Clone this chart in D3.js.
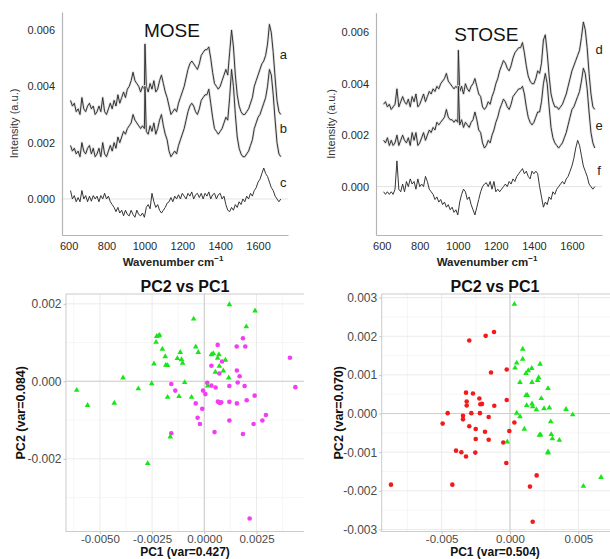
<!DOCTYPE html>
<html>
<head>
<meta charset="utf-8">
<script src="https://cdn.jsdelivr.net/npm/d3@7"></script>
<style>
  html, body { margin: 0; padding: 0; background: #fff; }
  svg { display: block; font-family: "Liberation Sans", Arial, sans-serif; }
</style>
</head>
<body>
<svg id="fig" width="610" height="559"></svg>
<script>
// wavenumber grid shared by every spectrum (cm-1)
const wavenumbers = d3.range(610, 1721, 10);

// MOSE spectra (a, b) and difference (c)
const moseA = [
  0.0035, 0.0033, 0.0034, 0.0031, 0.0032, 0.0030, 0.0036, 0.0032, 0.0031, 0.0033,
  0.0034, 0.0032, 0.0033, 0.0030, 0.0031, 0.0033, 0.0031, 0.0036, 0.0031, 0.0030,
  0.0032, 0.0034, 0.0032, 0.0035, 0.0033, 0.0037, 0.0034, 0.0036, 0.0038, 0.0036,
  0.0039, 0.0040, 0.0042, 0.0045, 0.0042, 0.0041, 0.0040, 0.0038, 0.0040, 0.0039,
  0.0040, 0.0038, 0.0041, 0.0039, 0.0042, 0.0038, 0.0039, 0.0042, 0.0044, 0.0041,
  0.0038, 0.0036, 0.0033, 0.0030, 0.0031, 0.0032, 0.0031, 0.0034, 0.0036, 0.0038,
  0.0040, 0.0043, 0.0046, 0.0048, 0.0049, 0.0048, 0.0047, 0.0046, 0.0048, 0.0051,
  0.0052, 0.0053, 0.0053, 0.0054, 0.0050, 0.0045, 0.0041, 0.0040, 0.0039, 0.0040,
  0.0042, 0.0044, 0.0046, 0.0044, 0.0052, 0.0060, 0.0054, 0.0044, 0.0037, 0.0033,
  0.0031, 0.0030, 0.0030, 0.0031, 0.0032, 0.0034, 0.0036, 0.0040, 0.0042, 0.0044,
  0.0046, 0.0048, 0.0049, 0.0051, 0.0055, 0.0062, 0.0059, 0.0052, 0.0043, 0.0035,
  0.0031, 0.0030
];
const moseB = [
  0.0019, 0.0017, 0.0018, 0.0016, 0.0017, 0.0015, 0.0020, 0.0017, 0.0016, 0.0018,
  0.0019, 0.0016, 0.0018, 0.0015, 0.0016, 0.0018, 0.0015, 0.0020, 0.0016, 0.0015,
  0.0017, 0.0019, 0.0017, 0.0020, 0.0018, 0.0022, 0.0020, 0.0022, 0.0024, 0.0023,
  0.0025, 0.0026, 0.0027, 0.0030, 0.0028, 0.0027, 0.0026, 0.0025, 0.0026, 0.0025,
  0.0024, 0.0023, 0.0026, 0.0024, 0.0027, 0.0023, 0.0025, 0.0028, 0.0030, 0.0026,
  0.0023, 0.0021, 0.0017, 0.0015, 0.0016, 0.0017, 0.0016, 0.0019, 0.0021, 0.0023,
  0.0025, 0.0028, 0.0031, 0.0033, 0.0034, 0.0033, 0.0031, 0.0030, 0.0032, 0.0035,
  0.0036, 0.0037, 0.0037, 0.0039, 0.0034, 0.0029, 0.0025, 0.0024, 0.0023, 0.0024,
  0.0025, 0.0027, 0.0029, 0.0028, 0.0036, 0.0046, 0.0040, 0.0030, 0.0022, 0.0018,
  0.0016, 0.0015, 0.0015, 0.0016, 0.0017, 0.0019, 0.0021, 0.0025, 0.0027, 0.0029,
  0.0030, 0.0032, 0.0034, 0.0036, 0.0040, 0.0046, 0.0044, 0.0037, 0.0028, 0.0020,
  0.0016, 0.0015
];
const moseC = [
  0.0003, 0.0000, 0.00012, -0.0001, 0.00005, -0.0001, 0.0003, 0.0000, 0.00012, -0.0001,
  0.0001, -0.00008, 0.00012, 0.0000, 0.0001, -0.0001, 0.00012, 0.0000, 0.0002, 0.0000,
  0.0001, -0.0001, -0.0002, -0.0003, -0.00045, -0.0003, -0.0005, -0.0004, -0.0006, -0.0004,
  -0.00055, -0.0006, -0.0004, -0.00055, -0.00065, -0.0004, -0.00055, -0.0006, -0.0005, -0.00065,
  -0.0003, -0.0002, -0.00035, 0.0002, -0.0001, -0.0003, -0.0002, -0.0004, -0.0005, -0.0004,
  -0.0003, -0.00015, -0.0001, 0.00005, -0.0001, 0.0001, 0.0000, 0.00015, 0.0000, 0.0002,
  0.0001, 0.0000, 0.0002, 0.0001, 0.00025, 0.0000, 0.00015, 0.0002, 0.00005, 0.0002,
  0.0000, 0.0002, 0.0001, 0.00025, 0.0000, 0.00015, 0.0002, 0.0000, 0.00015, 0.0002,
  0.0000, 0.0001, -0.0002, -0.0004, -0.00045, -0.0003, -0.0004, -0.0002, -0.0003, -0.0001,
  -0.0002, 0.0000, -0.0001, 0.0001, 0.0000, 0.0002, 0.0001, 0.0003, 0.0004, 0.0006,
  0.0007, 0.0009, 0.0011, 0.0009, 0.0008, 0.0006, 0.0004, 0.0003, 0.0001, 0.0000,
  -0.0001, 0.0000
];

// STOSE spectra (d, e) and difference (f)
const stoseD = [
  0.0032, 0.0033, 0.0031, 0.0032, 0.0030, 0.0031, 0.0032, 0.0038, 0.0031, 0.0033,
  0.0035, 0.0033, 0.0032, 0.0034, 0.0031, 0.0035, 0.0033, 0.0036, 0.0031, 0.0032,
  0.0034, 0.0036, 0.0033, 0.0035, 0.0037, 0.0036, 0.0038, 0.0037, 0.0039, 0.0038,
  0.0040, 0.0041, 0.0042, 0.0044, 0.0041, 0.0040, 0.0039, 0.0038, 0.0039, 0.0038,
  0.0037, 0.0039, 0.0036, 0.0040, 0.0038, 0.0037, 0.0039, 0.0040, 0.0042, 0.0039,
  0.0036, 0.0035, 0.0031, 0.0030, 0.0031, 0.0033, 0.0032, 0.0035, 0.0037, 0.0040,
  0.0042, 0.0045, 0.0047, 0.0049, 0.0048, 0.0046, 0.0045, 0.0047, 0.0050, 0.0052,
  0.0053, 0.0054, 0.0054, 0.0056, 0.0052, 0.0047, 0.0043, 0.0041, 0.0040, 0.0040,
  0.0042, 0.0045, 0.0044, 0.0048, 0.0057, 0.0059, 0.0052, 0.0043, 0.0036, 0.0033,
  0.0031, 0.0031, 0.0030, 0.0031, 0.0032, 0.0034, 0.0036, 0.0039, 0.0042, 0.0045,
  0.0047, 0.0049, 0.0051, 0.0053, 0.0058, 0.0064, 0.0061, 0.0054, 0.0044, 0.0036,
  0.0031, 0.0030
];
const stoseE = [
  0.0018, 0.0017, 0.0019, 0.0016, 0.0018, 0.0016, 0.0017, 0.0020, 0.0016, 0.0018,
  0.0020, 0.0018, 0.0017, 0.0019, 0.0016, 0.0021, 0.0018, 0.0021, 0.0016, 0.0017,
  0.0019, 0.0021, 0.0018, 0.0020, 0.0022, 0.0021, 0.0023, 0.0022, 0.0025, 0.0024,
  0.0025, 0.0026, 0.0027, 0.0030, 0.0027, 0.0026, 0.0026, 0.0025, 0.0026, 0.0025,
  0.0024, 0.0026, 0.0023, 0.0025, 0.0024, 0.0023, 0.0025, 0.0026, 0.0029, 0.0026,
  0.0022, 0.0021, 0.0017, 0.0015, 0.0016, 0.0018, 0.0017, 0.0020, 0.0022, 0.0025,
  0.0027, 0.0030, 0.0032, 0.0034, 0.0033, 0.0031, 0.0030, 0.0032, 0.0035, 0.0036,
  0.0037, 0.0038, 0.0038, 0.0039, 0.0036, 0.0031, 0.0027, 0.0025, 0.0024, 0.0025,
  0.0027, 0.0029, 0.0029, 0.0033, 0.0040, 0.0044, 0.0040, 0.0031, 0.0023, 0.0019,
  0.0017, 0.0016, 0.0015, 0.0016, 0.0017, 0.0019, 0.0021, 0.0024, 0.0027, 0.0030,
  0.0031, 0.0033, 0.0035, 0.0037, 0.0041, 0.0046, 0.0044, 0.0038, 0.0029, 0.0021,
  0.0017, 0.0015
];
const stoseF = [
  -0.0002, -0.0003, -0.0002, -0.0003, -0.0002, -0.0003, -0.0001, 0.0010, -0.0001, -0.0002,
  0.0001, -0.0002, 0.0002, 0.0000, 0.0003, 0.0001, 0.0002, -0.0001, 0.0003, 0.0000,
  0.0001, 0.0000, 0.0004, 0.0002, -0.0001, -0.0002, -0.0003, -0.0005, -0.0004, -0.0006,
  -0.0005, -0.0007, -0.0006, -0.0008, -0.0007, -0.0009, -0.0008, -0.0010, -0.0009, -0.0011,
  -0.0006, -0.0003, -0.0001, -0.0002, -0.0005, -0.0004, -0.0007, -0.0009, -0.0011, -0.0008,
  -0.0005, -0.0002, 0.0000, 0.0001, 0.00015, 0.0000, 0.0002, -0.0001, 0.0002, -0.0002,
  -0.0001, -0.0002, -0.0001, 0.0000, 0.0001, 0.0000, 0.0002, 0.0001, 0.0003, 0.0002,
  0.0004, 0.0005, 0.0006, 0.0007, 0.0005, 0.0006, 0.0004, 0.0003, 0.0006, 0.0005,
  0.0006, 0.0005, 0.0000, -0.0004, -0.0008, -0.0006, -0.0007, -0.0004, -0.0005, -0.0002,
  -0.0003, -0.0001, 0.0000, 0.0001, 0.0002, 0.0001, 0.0003, 0.0004, 0.0006, 0.0008,
  0.0011, 0.0015, 0.0018, 0.0016, 0.0012, 0.0008, 0.0006, 0.0004, 0.0001, 0.0000,
  -0.0001, 0.0000
];

// narrow band near 1003 cm-1 (top of spike per spectrum)
const spikeWn = 1003;
const spikeTops = { a: 0.0055, b: 0.0040, d: 0.0053, e: 0.0039 };

// PCA scores [PC1, PC2]
const moseGreen = [
  [-0.00611, -0.00023], [-0.00559, -0.00062], [-0.00431, -0.00056], [-0.00389, 0.00009],
  [-0.00316, -0.00019], [-0.00271, -0.00212], [-0.00252, -0.00006], [-0.00241, 0.00045],
  [-0.00231, 0.00101], [-0.00228, 0.00116], [-0.00220, 0.00117], [-0.00214, 0.00119],
  [-0.00201, 0.00083], [-0.00187, 0.00064], [-0.00184, 0.00042], [-0.00176, 0.00041],
  [-0.00176, -0.00041], [-0.00163, -0.00143], [-0.00129, 0.00059], [-0.00121, -0.00039],
  [-0.00115, 0.00075], [-0.00109, 0.00056], [-0.00104, 0.00047], [-0.00094, -0.00003],
  [-0.00061, -0.00041], [-0.00051, 0.00161], [-0.00041, 0.00089], [-0.00029, 0.00075],
  [0.00016, -0.00012], [0.00034, 0.00069], [0.00043, 0.00072], [0.00053, 0.00024],
  [0.00064, 0.00060], [0.00070, 0.00069], [0.00072, 0.00039], [0.00091, 0.00027],
  [0.00101, 0.00055], [0.00117, 0.00009], [0.00120, 0.00198], [0.00201, 0.00141],
  [0.00243, 0.00182]
];
const moseMagenta = [
  [-0.00158, -0.00007], [-0.00158, -0.00134], [-0.00139, -0.00024], [-0.00041, -0.00057],
  [-0.00032, -0.00094], [-0.00021, -0.00110], [-0.00010, -0.00071], [-0.00006, -0.00024],
  [0.00005, -0.00033], [0.00014, -0.00004], [0.00034, -0.00011], [0.00034, 0.00040],
  [0.00049, -0.00131], [0.00054, -0.00016], [0.00064, 0.00094], [0.00065, -0.00052],
  [0.00069, -0.00054], [0.00075, -0.00056], [0.00081, -0.00054], [0.00072, 0.00020],
  [0.00085, 0.00051], [0.00120, -0.00012], [0.00120, -0.00053], [0.00120, -0.00101],
  [0.00155, 0.00090], [0.00156, 0.00028], [0.00156, -0.00057], [0.00160, -0.00003],
  [0.00169, 0.00013], [0.00185, 0.00111], [0.00185, -0.00136], [0.00193, -0.00012],
  [0.00196, 0.00090], [0.00203, -0.00049], [0.00217, -0.00354], [0.00236, -0.00110],
  [0.00241, -0.00037], [0.00278, -0.00101], [0.00295, -0.00087], [0.00410, 0.00061],
  [0.00436, -0.00015]
];
const stoseRed = [
  [-0.00871, -0.00184], [-0.00493, -0.00026], [-0.00456, 0.00001], [-0.00422, -0.00184],
  [-0.00395, -0.00096], [-0.00356, -0.00100], [-0.00344, -0.00006], [-0.00344, -0.00015],
  [-0.00322, 0.00054], [-0.00317, 0.00031], [-0.00317, 0.00021], [-0.00322, -0.00111],
  [-0.00298, -0.00033], [-0.00298, 0.00189], [-0.00283, 0.00001], [-0.00271, 0.00052],
  [-0.00251, -0.00040], [-0.00251, -0.00066], [-0.00254, -0.00101], [-0.00224, 0.00039],
  [-0.00220, 0.00001], [-0.00217, 0.00024], [-0.00205, 0.00025], [-0.00183, -0.00047],
  [-0.00178, 0.00201], [-0.00156, -0.00009], [-0.00156, -0.00068], [-0.00139, 0.00106],
  [-0.00117, 0.00211], [-0.00115, 0.00020], [-0.00049, -0.00075], [-0.00027, -0.00128],
  [-0.00024, 0.00035], [-0.00024, 0.00114], [-0.00005, -0.00045], [0.00032, -0.00023],
  [0.00146, -0.00189], [0.00195, -0.00160], [0.00166, -0.00280]
];
const stoseGreen = [
  [0.00032, 0.00283], [-0.00020, -0.00073], [0.00037, 0.00118], [0.00049, 0.00131],
  [0.00049, 0.00001], [0.00073, -0.00008], [0.00073, 0.00081], [0.00093, 0.00167],
  [0.00093, 0.00141], [0.00105, -0.00040], [0.00117, 0.00104], [0.00117, 0.00047],
  [0.00127, 0.00047], [0.00122, 0.00021], [0.00134, 0.00111], [0.00159, 0.00117],
  [0.00161, 0.00081], [0.00161, 0.00025], [0.00166, 0.00018], [0.00193, 0.00010],
  [0.00202, 0.00086], [0.00210, 0.00093], [0.00220, 0.00128], [0.00215, -0.00056],
  [0.00224, -0.00055], [0.00229, 0.00039], [0.00249, 0.00013], [0.00278, 0.00065],
  [0.00278, -0.00099], [0.00278, -0.00102], [0.00288, 0.00015], [0.00298, -0.00021],
  [0.00302, -0.00054], [0.00310, -0.00065], [0.00361, -0.00069], [0.00410, 0.00011],
  [0.00459, -0.00003], [0.00537, -0.00188], [0.00666, -0.00165]
];

const specXTicks = [600, 800, 1000, 1200, 1400, 1600];
const specYTicks = [0, 0.002, 0.004, 0.006];

const svg = d3.select("#fig");
svg.append("rect").attr("width", 610).attr("height", 559).attr("fill", "#fff");

// join spectrum values to the grid, with the spike point slotted in
function toPoints(values, spikeTop) {
  const pts = wavenumbers.map((wn, i) => ({ wn, v: values[i] }));
  if (spikeTop != null) {
    const i = pts.findIndex(p => p.wn > spikeWn);
    pts.splice(i, 0, { wn: spikeWn, v: spikeTop });
  }
  return pts;
}

// -------------------- spectra panels --------------------
function buildSpectra(opt) {
  const { box, xDomain, yDomain } = opt;
  const x = d3.scaleLinear().domain(xDomain).range([box.l, box.r]);
  const y = d3.scaleLinear().domain(yDomain).range([box.b, box.t]);
  const g = svg.append("g");

  // zero reference
  g.append("line")
    .attr("x1", box.l).attr("x2", box.r)
    .attr("y1", y(0)).attr("y2", y(0))
    .attr("stroke", "#e3e3e3").attr("stroke-width", 1);

  const yAx = g.append("g").attr("transform", `translate(${box.l},0)`)
    .call(d3.axisLeft(y).tickValues(specYTicks).tickFormat(d => d.toFixed(3))
      .tickSize(0).tickPadding(7));
  const xAx = g.append("g").attr("transform", `translate(0,${box.b})`)
    .call(d3.axisBottom(x).tickValues(specXTicks).tickFormat(d3.format("d"))
      .tickSize(0).tickPadding(7));
  [yAx, xAx].forEach(a => {
    a.select(".domain").attr("stroke", "#b4b4b4").attr("stroke-width", 1.2);
    a.selectAll("text").attr("font-size", 11).attr("fill", "#2a2a2a")
      .attr("font-family", "Liberation Sans, Arial, sans-serif");
  });

  const lineGen = d3.line().x(d => x(d.wn)).y(d => y(d.v));

  opt.series.forEach(s => {
    const pts = toPoints(s.values, s.spike);
    if (s.ribbon) {
      g.append("path").datum(pts).attr("d", lineGen)
        .attr("fill", "none").attr("stroke", "#dedede")
        .attr("stroke-width", 2.6).attr("stroke-linejoin", "round");
    }
    g.append("path").datum(pts).attr("d", lineGen)
      .attr("fill", "none").attr("stroke", "#2b2b2b")
      .attr("stroke-width", 0.95).attr("stroke-linejoin", "round");
    g.append("text")
      .attr("x", x(s.labelAt[0])).attr("y", y(s.labelAt[1]))
      .attr("text-anchor", "middle").attr("dominant-baseline", "middle")
      .attr("font-size", 13).attr("fill", "#222").text(s.label);
  });

  g.append("text")
    .attr("x", x(opt.titleAt[0])).attr("y", y(opt.titleAt[1]))
    .attr("text-anchor", "middle").attr("font-size", 19).attr("fill", "#111")
    .text(opt.title);

  g.append("text")
    .attr("transform", `translate(${opt.yTitleX},${(box.t + box.b) / 2}) rotate(-90)`)
    .attr("text-anchor", "middle").attr("font-size", 11).attr("fill", "#333")
    .text("Intensity (a.u.)");

  const xt = g.append("text")
    .attr("x", (box.l + box.r) / 2 - 2).attr("y", box.b + 31)
    .attr("text-anchor", "middle").attr("font-size", 11.5)
    .attr("font-weight", "bold").attr("fill", "#222");
  xt.append("tspan").text("Wavenumber cm");
  xt.append("tspan").attr("dy", -5).attr("font-size", 8).text("\u22121");
}

buildSpectra({
  box: { l: 62, r: 288, t: 12, b: 235 },
  xDomain: [565, 1758], yDomain: [-0.00128, 0.00664],
  title: "MOSE", titleAt: [1145, 0.00575], yTitleX: 18,
  series: [
    { values: moseA, spike: spikeTops.a, ribbon: true, label: "a", labelAt: [1733, 0.0051] },
    { values: moseB, spike: spikeTops.b, ribbon: true, label: "b", labelAt: [1733, 0.00245] },
    { values: moseC, spike: null, ribbon: false, label: "c", labelAt: [1733, 0.00055] }
  ]
});

buildSpectra({
  box: { l: 376, r: 602, t: 12.7, b: 235 },
  xDomain: [570, 1758], yDomain: [-0.00188, 0.00676],
  title: "STOSE", titleAt: [1150, 0.00565], yTitleX: 335,
  series: [
    { values: stoseD, spike: spikeTops.d, ribbon: true, label: "d", labelAt: [1743, 0.0053] },
    { values: stoseE, spike: spikeTops.e, ribbon: true, label: "e", labelAt: [1743, 0.00232] },
    { values: stoseF, spike: null, ribbon: false, label: "f", labelAt: [1743, 0.00058] }
  ]
});

// -------------------- PCA score panels --------------------
function buildScatter(opt) {
  const { box } = opt;
  const x = d3.scaleLinear().domain(opt.xDomain).range([box.l, box.r]);
  const y = d3.scaleLinear().domain(opt.yDomain).range([box.b, box.t]);

  const clipId = "clip" + opt.id;
  svg.append("clipPath").attr("id", clipId)
    .append("rect").attr("x", box.l - 1).attr("y", box.t - 1)
    .attr("width", opt.clipR - box.l + 1).attr("height", box.b - box.t + 2);

  const g = svg.append("g");
  const p = g.append("g").attr("clip-path", `url(#${clipId})`);

  // minor then major grid
  opt.xMinor.forEach(v => p.append("line").attr("x1", x(v)).attr("x2", x(v))
    .attr("y1", box.t).attr("y2", box.b).attr("stroke", "#f4f4f4").attr("stroke-width", 0.8));
  opt.yMinor.forEach(v => p.append("line").attr("y1", y(v)).attr("y2", y(v))
    .attr("x1", box.l).attr("x2", box.r).attr("stroke", "#f4f4f4").attr("stroke-width", 0.8));
  opt.xTicks.forEach(v => p.append("line").attr("x1", x(v)).attr("x2", x(v))
    .attr("y1", box.t).attr("y2", box.b).attr("stroke", "#ebebeb").attr("stroke-width", 1));
  opt.yTicks.forEach(v => p.append("line").attr("y1", y(v)).attr("y2", y(v))
    .attr("x1", box.l).attr("x2", box.r).attr("stroke", "#ebebeb").attr("stroke-width", 1));

  // zero cross-hair
  p.append("line").attr("x1", x(0)).attr("x2", x(0)).attr("y1", box.t).attr("y2", box.b)
    .attr("stroke", "#cfcfcf").attr("stroke-width", 1.1);
  p.append("line").attr("y1", y(0)).attr("y2", y(0)).attr("x1", box.l).attr("x2", box.r)
    .attr("stroke", "#cfcfcf").attr("stroke-width", 1.1);

  // circles
  p.selectAll("circle.pt").data(opt.circles).join("circle")
    .attr("class", "pt")
    .attr("cx", d => x(d[0])).attr("cy", d => y(d[1]))
    .attr("r", 2.3).attr("fill", opt.circleColor);

  // triangles
  const tri = d3.symbol(d3.symbolTriangle).size(14);
  p.selectAll("path.tri").data(opt.triangles).join("path")
    .attr("class", "tri")
    .attr("transform", d => `translate(${x(d[0])},${y(d[1])})`)
    .attr("d", tri).attr("fill", opt.triColor);

  // panel border
  p.append("rect").attr("x", box.l).attr("y", box.t)
    .attr("width", box.r - box.l).attr("height", box.b - box.t)
    .attr("fill", "none").attr("stroke", "#cccccc").attr("stroke-width", 1);

  const yAx = g.append("g").attr("transform", `translate(${box.l},0)`)
    .call(d3.axisLeft(y).tickValues(opt.yTicks).tickFormat(opt.yFmt)
      .tickSize(2.5).tickPadding(2));
  const xAx = g.append("g").attr("transform", `translate(0,${box.b})`)
    .call(d3.axisBottom(x).tickValues(opt.xTicks).tickFormat(opt.xFmt)
      .tickSize(2.5).tickPadding(0.5));
  yAx.selectAll("text").attr("font-size", 12);
  xAx.selectAll("text").attr("font-size", 11.5);
  [yAx, xAx].forEach(a => {
    a.select(".domain").remove();
    a.selectAll("line").attr("stroke", "#c4c4c4");
    a.selectAll("text").attr("fill", "#4a4a4a")
      .attr("font-family", "Liberation Sans, Arial, sans-serif");
  });

  g.append("text").attr("x", opt.titleX).attr("y", box.t - 2)
    .attr("text-anchor", "middle").attr("font-size", 16).attr("font-weight", "bold")
    .attr("fill", "#111").text("PC2 vs PC1");
  g.append("text").attr("x", opt.titleX).attr("y", 556.2)
    .attr("text-anchor", "middle").attr("font-size", 12).attr("font-weight", "bold")
    .attr("fill", "#111").text(opt.xTitle);
  g.append("text")
    .attr("transform", `translate(${opt.yTitleX},${(box.t + box.b) / 2}) rotate(-90)`)
    .attr("text-anchor", "middle").attr("font-size", 12.5).attr("font-weight", "bold")
    .attr("fill", "#111").text(opt.yTitle);
}

const fmtFixed = n => v => (Math.abs(v) < 1e-12 ? 0 : v).toFixed(n);

buildScatter({
  id: "mose",
  box: { l: 66, r: 320, t: 294, b: 531.5 },
  clipR: 304,
  xDomain: [-0.006622, -0.006622 + (320 - 66) / 20886],
  yDomain: [-0.003875, 0.002253],
  xTicks: [-0.005, -0.0025, 0, 0.0025], xMinor: [-0.00625, -0.00375, -0.00125, 0.00125, 0.00375],
  yTicks: [-0.002, 0, 0.002], yMinor: [-0.003, -0.001, 0.001],
  xFmt: fmtFixed(4), yFmt: fmtFixed(3),
  circles: moseMagenta, circleColor: "#f33cf3",
  triangles: moseGreen, triColor: "#19e619",
  titleX: 185, yTitleX: 25,
  xTitle: "PC1 (var=0.427)", yTitle: "PC2 (var=0.084)"
});

buildScatter({
  id: "stose",
  box: { l: 381.7, r: 612, t: 294, b: 531.5 },
  clipR: 612,
  xDomain: [-0.009388, 0.007463],
  yDomain: [-0.003052, 0.003093],
  xTicks: [-0.005, 0, 0.005], xMinor: [-0.0075, -0.0025, 0.0025, 0.0075],
  yTicks: [-0.003, -0.002, -0.001, 0, 0.001, 0.002, 0.003],
  yMinor: [-0.0025, -0.0015, -0.0005, 0.0005, 0.0015, 0.0025],
  xFmt: fmtFixed(3), yFmt: fmtFixed(3),
  circles: stoseRed, circleColor: "#f41a1a",
  triangles: stoseGreen, triColor: "#19e619",
  titleX: 495, yTitleX: 343,
  xTitle: "PC1 (var=0.504)", yTitle: "PC2 (var=0.070)"
});
</script>
</body>
</html>
